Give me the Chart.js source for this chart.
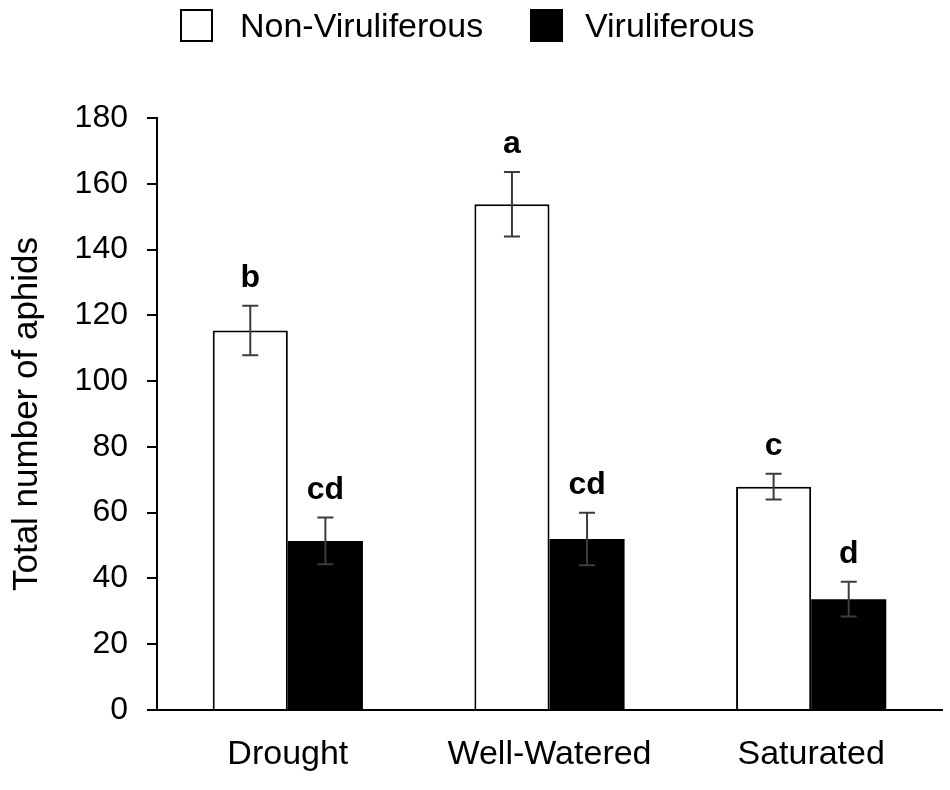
<!DOCTYPE html>
<html>
<head>
<meta charset="utf-8">
<script src="https://cdn.jsdelivr.net/npm/chart.js@4"></script>
<style>
  html, body { margin: 0; padding: 0; background: #fff; }
  #wrap { position: relative; width: 950px; height: 790px; }
  #legend { position: absolute; left: 0; top: 0; width: 950px; height: 50px; font-family: "Liberation Sans", Arial, sans-serif; font-size: 34px; color: #000; }
  .lg-box { position: absolute; top: 9px; width: 33px; height: 33px; box-sizing: border-box; border: 2px solid #000; }
  .lg-text { position: absolute; top: 6px; line-height: 38px; white-space: nowrap; }
</style>
</head>
<body>
<div id="wrap">
  <canvas id="chart" width="950" height="790"></canvas>
  <div id="legend"></div>
</div>
<script>
// 데이터
const categories = ["Drought", "Well-Watered", "Saturated"];
const seriesNames = ["Non-Viruliferous", "Viruliferous"];
const nonViruliferous = [115.4, 153.8, 67.9];
const nonViruliferousErr = [7.5, 9.8, 3.9];
const viruliferous = [51.4, 52.0, 33.7];
const viruliferousErr = [7.1, 8.0, 5.3];
const nonViruliferousLetters = ["b", "a", "c"];
const viruliferousLetters = ["cd", "cd", "d"];
const yTicks = [0, 20, 40, 60, 80, 100, 120, 140, 160, 180];

const fontFamily = '"Liberation Sans", Arial, sans-serif';

document.addEventListener("DOMContentLoaded", function () {
  const errors = [nonViruliferousErr, viruliferousErr];
  const letters = [nonViruliferousLetters, viruliferousLetters];

  // 막대 위 오차 막대 + 유의성 문자
  const errorBarPlugin = {
    id: "errorBars",
    afterDatasetsDraw(chart) {
      const ctx = chart.ctx;
      const yScale = chart.scales.y;
      chart.data.datasets.forEach(function (ds, di) {
        const meta = chart.getDatasetMeta(di);
        meta.data.forEach(function (bar, i) {
          const v = ds.data[i];
          const e = errors[di][i];
          const yTop = yScale.getPixelForValue(v + e);
          const yBot = yScale.getPixelForValue(v - e);
          const x = bar.x;
          ctx.save();
          ctx.strokeStyle = "#3c3c3c";
          ctx.lineWidth = 2;
          ctx.beginPath();
          ctx.moveTo(x, yTop);
          ctx.lineTo(x, yBot);
          ctx.moveTo(x - 8, yTop);
          ctx.lineTo(x + 8, yTop);
          ctx.moveTo(x - 8, yBot);
          ctx.lineTo(x + 8, yBot);
          ctx.stroke();
          ctx.fillStyle = "#000";
          ctx.font = "bold 32px " + fontFamily;
          ctx.textAlign = "center";
          ctx.textBaseline = "alphabetic";
          ctx.fillText(letters[di][i], x, yTop - 19);
          ctx.restore();
        });
      });
    },
  };

  const chart = new Chart(document.getElementById("chart"), {
    type: "bar",
    data: {
      labels: categories,
      datasets: [
        {
          label: seriesNames[0],
          data: nonViruliferous,
          backgroundColor: "#ffffff",
          borderColor: "#000000",
          borderWidth: 2,
          borderSkipped: "bottom",
        },
        {
          label: seriesNames[1],
          data: viruliferous,
          backgroundColor: "#000000",
          borderColor: "#000000",
          borderWidth: 0,
        },
      ],
    },
    options: {
      responsive: false,
      animation: false,
      devicePixelRatio: 1,
      layout: { padding: { left: 0, right: 8, top: 118, bottom: 0 } },
      datasets: { bar: { categoryPercentage: 0.574, barPercentage: 1.0 } },
      plugins: {
        legend: { display: false },
        tooltip: { enabled: false },
      },
      scales: {
        x: {
          grid: { display: false },
          border: { display: true, color: "#000", width: 2 },
          ticks: {
            color: "#000",
            font: { family: fontFamily, size: 34 },
            padding: 16,
            maxRotation: 0,
          },
          afterFit: function (s) { s.height = 80; },
        },
        y: {
          min: 0,
          max: 180,
          afterBuildTicks: function (s) { s.ticks = yTicks.map((v) => ({ value: v })); },
          grid: {
            drawOnChartArea: false,
            drawTicks: true,
            tickLength: 10,
            color: "#000",
            lineWidth: 2,
          },
          border: { display: true, color: "#000", width: 2 },
          ticks: {
            color: "#000",
            font: { family: fontFamily, size: 32 },
            padding: 19,
          },
          title: {
            display: true,
            text: "Total number of aphids",
            color: "#000",
            font: { family: fontFamily, size: 35 },
            padding: { top: 6, bottom: 0 },
          },
          afterFit: function (s) { s.width = 157; },
        },
      },
    },
    plugins: [errorBarPlugin],
  });

  // 범례는 HTML로 (상자와 글자 간격을 원본에 맞추기 위해)
  const legendEl = document.getElementById("legend");
  const legendPos = [
    { box: 180, text: 240 },
    { box: 530, text: 585 },
  ];
  chart.data.datasets.forEach(function (ds, i) {
    const box = document.createElement("div");
    box.className = "lg-box";
    box.style.left = legendPos[i].box + "px";
    box.style.background = ds.backgroundColor;
    legendEl.appendChild(box);
    const txt = document.createElement("div");
    txt.className = "lg-text";
    txt.style.left = legendPos[i].text + "px";
    txt.textContent = ds.label;
    legendEl.appendChild(txt);
  });
});
</script>
</body>
</html>
